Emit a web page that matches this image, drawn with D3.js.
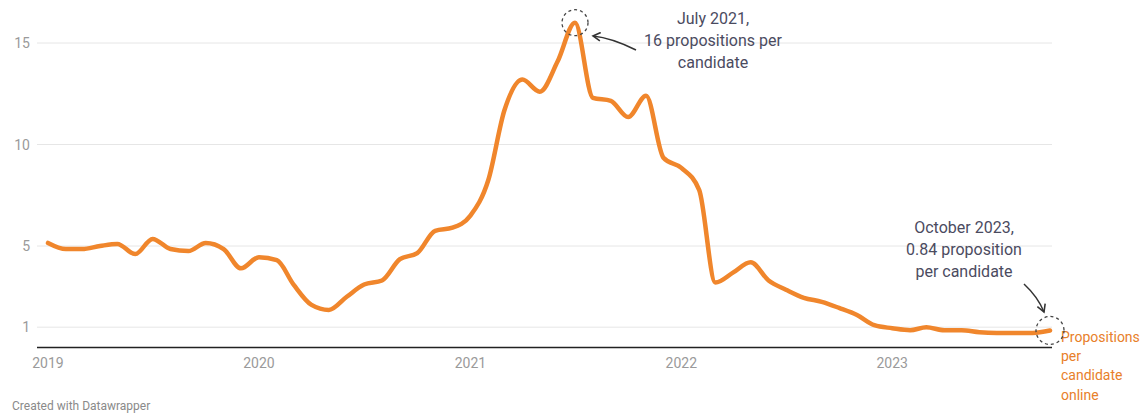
<!DOCTYPE html>
<html>
<head>
<meta charset="utf-8">
<script src="https://cdn.jsdelivr.net/npm/d3@7"></script>
<style>
  body { margin: 0; background: #fff; font-family: Roboto, "Noto Sans", sans-serif; }
  svg text { font-family: Roboto, "Noto Sans", sans-serif; }
</style>
</head>
<body>
<div id="chart"></div>
<script>
"use strict";

// monthly values, Jan 2019 - Oct 2023
var startMonth = "2019-01";
var values = [
  5.15, 4.85, 4.85, 5.0, 5.1, 4.6, 5.35, 4.85, 4.75, 5.15, 4.85, 3.9,
  4.45, 4.3, 3.1, 2.1, 1.85, 2.5, 3.1, 3.3, 4.35, 4.65, 5.75, 5.9,
  6.5, 8.25, 11.7, 13.2, 12.6, 14.1, 16.0, 12.3, 12.15, 11.35, 12.4, 9.35,
  8.85, 7.75, 3.2, 3.7, 4.2, 3.3, 2.85, 2.45, 2.25, 1.95, 1.6, 1.1,
  0.95, 0.85, 1.0, 0.85, 0.85, 0.75, 0.72, 0.72, 0.72, 0.84
];
var yTicks = [1, 5, 10, 15];
var xTickYears = [2019, 2020, 2021, 2022, 2023];
var seriesLabel = ["Propositions", "per", "candidate", "online"];
var peakNote = ["July 2021,", "16 propositions per", "candidate"];
var lastNote = ["October 2023,", "0.84 proposition", "per candidate"];

var parseMonth = d3.timeParse("%Y-%m");
var t0 = parseMonth(startMonth);
var data = values.map((v, i) => ({date: d3.timeMonth.offset(t0, i), value: v}));

var W = 1148, H = 414;
var svg = d3.select("#chart").append("svg")
    .attr("width", W).attr("height", H);

var x = d3.scaleTime()
    .domain([data[0].date, data[data.length - 1].date])
    .range([48, 1050]);
var y = d3.scaleLinear()
    .domain([0, 15])
    .range([347.5, 43]);

var gridLeft = 37, gridRight = 1052;

// grid lines + y labels
var yg = svg.append("g");
yTicks.forEach(t => {
  yg.append("line")
    .attr("x1", gridLeft).attr("x2", gridRight)
    .attr("y1", y(t)).attr("y2", y(t))
    .attr("stroke", "#e6e6e6").attr("stroke-width", 1);
  yg.append("text")
    .attr("x", 30).attr("y", y(t) + 5)
    .attr("text-anchor", "end")
    .attr("font-size", 14).attr("fill", "#9a9a9a")
    .text(t);
});

// baseline
svg.append("line")
  .attr("x1", gridLeft).attr("x2", gridRight)
  .attr("y1", y(0)).attr("y2", y(0))
  .attr("stroke", "#222").attr("stroke-width", 1.5);

// x labels
xTickYears.forEach(yr => {
  svg.append("text")
    .attr("x", x(new Date(yr, 0, 1)))
    .attr("y", 368)
    .attr("text-anchor", "middle")
    .attr("font-size", 14).attr("fill", "#9a9a9a")
    .text(yr);
});

// line
var line = d3.line()
    .x(d => x(d.date))
    .y(d => y(d.value))
    .curve(d3.curveMonotoneX);

svg.append("path")
  .datum(data)
  .attr("d", line)
  .attr("fill", "none")
  .attr("stroke", "#f0862c")
  .attr("stroke-width", 4.5)
  .attr("stroke-linejoin", "round")
  .attr("stroke-linecap", "round");

// series label
svg.append("text")
  .attr("x", 1061).attr("y", 342)
  .attr("font-size", 14).attr("fill", "#e8802a")
  .selectAll("tspan")
  .data(seriesLabel).join("tspan")
  .attr("x", 1061)
  .attr("dy", (d, i) => i ? 19.2 : 0)
  .text(d => d);

// annotations
var peak = data[30], last = data[data.length - 1];

svg.append("defs").append("marker")
  .attr("id", "arrow")
  .attr("viewBox", "0 0 10 10")
  .attr("refX", 8).attr("refY", 5)
  .attr("markerWidth", 7).attr("markerHeight", 7)
  .attr("orient", "auto-start-reverse")
  .append("path")
  .attr("d", "M1,1 L8,5 L1,9")
  .attr("fill", "none").attr("stroke", "#333").attr("stroke-width", 1.5);

function note(lines, cx, top) {
  svg.append("text")
    .attr("text-anchor", "middle")
    .attr("font-size", 16).attr("fill", "#4b4b5f")
    .selectAll("tspan")
    .data(lines).join("tspan")
    .attr("x", cx)
    .attr("y", (d, i) => top + i * 22)
    .text(d => d);
}

note(peakNote, 713, 24);
note(lastNote, 964, 233);

svg.append("circle")
  .attr("cx", x(peak.date)).attr("cy", y(peak.value))
  .attr("r", 13)
  .attr("fill", "none").attr("stroke", "#444")
  .attr("stroke-width", 1.3).attr("stroke-dasharray", "3,3");
svg.append("circle")
  .attr("cx", x(last.date)).attr("cy", y(last.value))
  .attr("r", 14)
  .attr("fill", "none").attr("stroke", "#444")
  .attr("stroke-width", 1.3).attr("stroke-dasharray", "3,3");

svg.append("path")
  .attr("d", "M636,50 Q612,38 593,36")
  .attr("fill", "none").attr("stroke", "#333").attr("stroke-width", 1.5)
  .attr("marker-end", "url(#arrow)");
svg.append("path")
  .attr("d", "M1024,284 Q1038,297 1044,312")
  .attr("fill", "none").attr("stroke", "#333").attr("stroke-width", 1.5)
  .attr("marker-end", "url(#arrow)");

// footer
svg.append("text")
  .attr("x", 12).attr("y", 410)
  .attr("font-size", 12).attr("fill", "#8a8a8a")
  .text("Created with Datawrapper");
</script>
</body>
</html>
